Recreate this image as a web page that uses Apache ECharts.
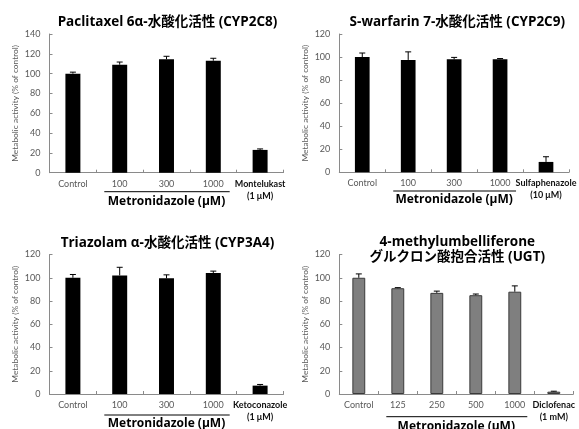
<!DOCTYPE html>
<html>
<head>
<meta charset="utf-8">
<script src="https://cdn.jsdelivr.net/npm/echarts@6/dist/echarts.min.js"></script>
<style>
  html, body { margin: 0; padding: 0; background: #fff; }
  #chart { width: 579px; height: 429px; }
</style>
</head>
<body>
<div id="chart"></div>
<script>
// Panel titles
const titles = [
  'Paclitaxel 6α-水酸化活性 (CYP2C8)',
  'S-warfarin 7-水酸化活性 (CYP2C9)',
  'Triazolam α-水酸化活性 (CYP3A4)',
  '4-methylumbelliferone\nグルクロン酸抱合活性 (UGT)'
];

// Categories per panel (last one is the positive-control inhibitor)
const catsCYP2C8 = ['Control', '100', '300', '1000', 'Montelukast\n(1 μM)'];
const catsCYP2C9 = ['Control', '100', '300', '1000', 'Sulfaphenazole\n(10 μM)'];
const catsCYP3A4 = ['Control', '100', '300', '1000', 'Ketoconazole\n(1 μM)'];
const catsUGT = ['Control', '125', '250', '500', '1000', 'Diclofenac\n(1 mM)'];

// Mean metabolic activity (% of control)
const valsCYP2C8 = [100, 109, 114.5, 113, 23];
const valsCYP2C9 = [100, 97.5, 98, 98, 9];
const valsCYP3A4 = [100, 102, 99.5, 104, 7.2];
const valsUGT = [100, 91, 87, 85, 88, 2];

// Error (SD) for each bar
const errCYP2C8 = [1.5, 2.7, 3, 2.5, 1];
const errCYP2C9 = [3.5, 7, 1.7, 0.7, 4.5];
const errCYP3A4 = [2.8, 7, 3, 1.7, 1];
const errUGT = [3.3, 0.5, 1.5, 1, 5, 0.4];

// Y axis tick settings
const yMaxes = [140, 120, 120, 120];
const yStep = 20;

const groupLabel = 'Metronidazole (μM)';
const yName = 'Metabolic activity (% of control)';

const panels = [
  { cats: catsCYP2C8, vals: valsCYP2C8, err: errCYP2C8, color: '#000000', border: '#000000' },
  { cats: catsCYP2C9, vals: valsCYP2C9, err: errCYP2C9, color: '#000000', border: '#000000' },
  { cats: catsCYP3A4, vals: valsCYP3A4, err: errCYP3A4, color: '#000000', border: '#000000' },
  { cats: catsUGT, vals: valsUGT, err: errUGT, color: '#7f7f7f', border: '#3a3a3a' }
];

const grids = [
  { left: 49.5, top: 34, width: 234, height: 138.7 },
  { left: 339.3, top: 34, width: 234, height: 138.3 },
  { left: 49.5, top: 254.5, width: 234, height: 139.5 },
  { left: 339.3, top: 254.5, width: 234, height: 139.5 }
];

const latin = 'Lato, "Noto Sans", sans-serif';
const axisColor = '#8a8a8a';
const labelColor = '#595959';

const xAxes = panels.map((p, i) => ({
  type: 'category',
  gridIndex: i,
  data: p.cats.map((c, k) => k === p.cats.length - 1
    ? { value: c, textStyle: { fontWeight: 'bold', color: '#111' } }
    : c),
  axisLine: { lineStyle: { color: axisColor, width: 1 } },
  axisTick: { show: true, inside: true, length: 3, lineStyle: { color: axisColor } },
  axisLabel: {
    interval: 0, margin: 5, fontSize: 9, lineHeight: 12,
    fontFamily: latin, color: labelColor
  },
  splitLine: { show: false }
}));

const yAxes = panels.map((p, i) => ({
  type: 'value',
  gridIndex: i,
  min: 0, max: yMaxes[i], interval: yStep,
  name: yName,
  nameLocation: 'middle',
  nameGap: 30,
  nameTextStyle: { fontSize: 8.4, fontFamily: latin, color: labelColor },
  axisLine: { show: true, lineStyle: { color: axisColor, width: 1 } },
  axisTick: { show: true, inside: true, length: 3, lineStyle: { color: axisColor } },
  axisLabel: { fontSize: 9, margin: 9, fontFamily: latin, color: labelColor },
  splitLine: { show: false }
}));

const series = [];
panels.forEach((p, i) => {
  series.push({
    type: 'bar',
    xAxisIndex: i, yAxisIndex: i,
    data: p.vals,
    barWidth: i === 3 ? '33%' : '32%',
    itemStyle: { color: p.color, borderColor: p.border, borderWidth: i === 3 ? 1 : 0 },
    silent: true
  });
  series.push({
    type: 'custom',
    xAxisIndex: i, yAxisIndex: i,
    z: 5,
    data: p.vals.map((v, k) => [k, v, p.err[k]]),
    encode: { x: 0, y: 1 },
    renderItem: function (params, api) {
      const k = api.value(0), v = api.value(1), e = api.value(2);
      const base = api.coord([k, v]);
      const top = api.coord([k, v + e]);
      const half = 3;
      const st = { stroke: '#000', lineWidth: 1 };
      return {
        type: 'group',
        children: [
          { type: 'line', shape: { x1: base[0], y1: base[1], x2: top[0], y2: top[1] }, style: st },
          { type: 'line', shape: { x1: top[0] - half, y1: top[1], x2: top[0] + half, y2: top[1] }, style: st }
        ]
      };
    },
    silent: true
  });
});

const chart = echarts.init(document.getElementById('chart'), null, { renderer: 'canvas' });
chart.setOption({
  animation: false,
  backgroundColor: '#ffffff',
  grid: grids,
  xAxis: xAxes,
  yAxis: yAxes,
  series: series
});

// Titles, group bracket lines and "Metronidazole" labels, placed from axis pixels
const titleFont = '"Open Sans", "Noto Sans CJK JP", sans-serif';
const bracketOffsets = [19, 18.7, 21, 22.7];
const labelOffsets = [29, 27.5, 29.3, 32.5];
const graphics = [];
panels.forEach((p, i) => {
  const c0 = chart.convertToPixel({ xAxisIndex: i }, 0);
  const c1 = chart.convertToPixel({ xAxisIndex: i }, 1);
  const w = c1 - c0;
  const lastGroup = p.cats.length - 2;
  const xStart = c1 - w / 2 + 8;
  const xEnd = chart.convertToPixel({ xAxisIndex: i }, lastGroup) + w / 2 - 7;
  const yBase = chart.convertToPixel({ yAxisIndex: i }, 0);
  const yTop = chart.convertToPixel({ yAxisIndex: i }, yMaxes[i]);
  const mid = (c1 + chart.convertToPixel({ xAxisIndex: i }, lastGroup)) / 2;
  graphics.push({
    type: 'line',
    shape: { x1: xStart, y1: yBase + bracketOffsets[i], x2: xEnd, y2: yBase + bracketOffsets[i] },
    style: { stroke: '#000', lineWidth: 1 }
  });
  graphics.push({
    type: 'text',
    x: mid, y: yBase + labelOffsets[i],
    style: {
      text: groupLabel, align: 'center', verticalAlign: 'middle',
      font: 'bold 12px ' + titleFont, fill: '#000'
    }
  });
  const gridMidX = grids[i].left + grids[i].width / 2 - 1;
  const multi = titles[i].indexOf('\n') >= 0;
  graphics.push({
    type: 'text',
    x: gridMidX + 2,
    y: multi ? yTop - 5 : yTop - 11.5,
    style: {
      text: titles[i], align: 'center', verticalAlign: 'middle',
      font: 'bold 13.5px ' + titleFont, fill: '#000',
      lineHeight: 15.5
    },
    z: 10
  });
});
chart.setOption({ graphic: graphics });
</script>
</body>
</html>
